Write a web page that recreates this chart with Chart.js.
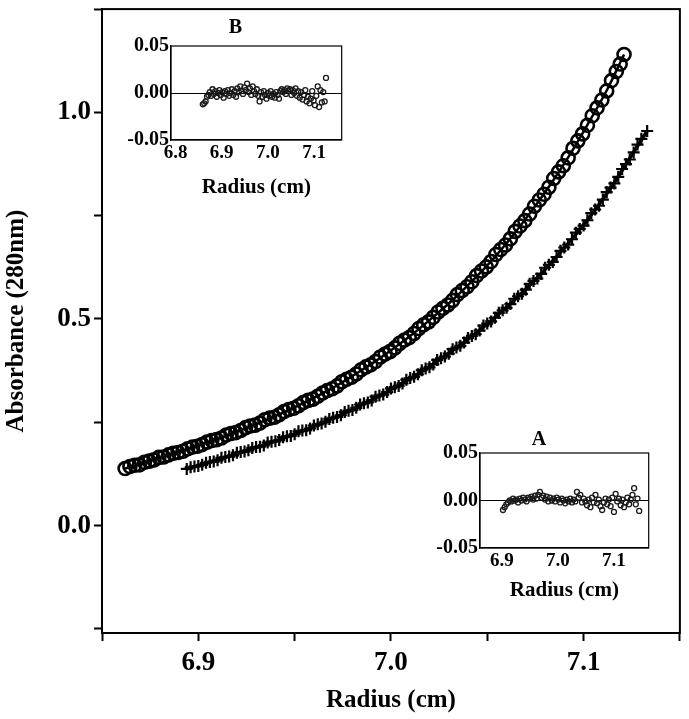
<!DOCTYPE html>
<html>
<head>
<meta charset="utf-8">
<script src="https://cdn.jsdelivr.net/npm/chart.js@4.4.1/dist/chart.umd.min.js"></script>
<style>
  html, body { margin: 0; padding: 0; background: #fff; }
  #wrap { position: relative; width: 689px; height: 719px; }
  canvas { position: absolute; }
</style>
</head>
<body>
<div id="wrap">
  <canvas id="mainChart" width="689" height="719" style="left:0;top:0"></canvas>
  <canvas id="insetB" width="219" height="196" style="left:128px;top:6px"></canvas>
  <canvas id="insetA" width="226" height="185" style="left:428px;top:420px"></canvas>
</div>
<script>
// ===========================
// DATA
// ===========================
// open circles (measured points)
const circleX = [6.862, 6.8645, 6.867, 6.8695, 6.872, 6.8745, 6.877, 6.8795, 6.882, 6.8845,
  6.887, 6.8895, 6.892, 6.8945, 6.897, 6.8995, 6.902, 6.9045, 6.907, 6.9095,
  6.912, 6.9145, 6.917, 6.9195, 6.922, 6.9245, 6.927, 6.9295, 6.932, 6.9345,
  6.937, 6.9395, 6.942, 6.9445, 6.947, 6.9495, 6.952, 6.9545, 6.957, 6.9595,
  6.962, 6.9645, 6.967, 6.9695, 6.972, 6.9745, 6.977, 6.9795, 6.982, 6.9845,
  6.987, 6.9895, 6.992, 6.9945, 6.997, 6.9995, 7.002, 7.0045, 7.007, 7.0095,
  7.012, 7.0145, 7.017, 7.0195, 7.022, 7.0245, 7.027, 7.0295, 7.032, 7.0345,
  7.037, 7.0395, 7.042, 7.0445, 7.047, 7.0495, 7.052, 7.0545, 7.057, 7.0595,
  7.062, 7.0645, 7.067, 7.0695, 7.072, 7.0745, 7.077, 7.0795, 7.082, 7.0845,
  7.087, 7.0895, 7.092, 7.0945, 7.097, 7.0995, 7.102, 7.1045, 7.107, 7.1095,
  7.112, 7.1145, 7.117, 7.119, 7.121];
const circleY = [0.138, 0.143, 0.146, 0.147, 0.153, 0.156, 0.159, 0.165, 0.166, 0.171,
  0.175, 0.177, 0.180, 0.186, 0.190, 0.192, 0.196, 0.202, 0.206, 0.208,
  0.212, 0.219, 0.223, 0.225, 0.230, 0.237, 0.241, 0.243, 0.248, 0.256,
  0.260, 0.262, 0.268, 0.276, 0.281, 0.284, 0.290, 0.298, 0.303, 0.306,
  0.313, 0.321, 0.327, 0.331, 0.338, 0.348, 0.354, 0.359, 0.367, 0.377,
  0.384, 0.389, 0.397, 0.408, 0.415, 0.421, 0.430, 0.441, 0.449, 0.455,
  0.465, 0.477, 0.486, 0.493, 0.504, 0.517, 0.526, 0.534, 0.545, 0.559,
  0.569, 0.578, 0.590, 0.605, 0.616, 0.626, 0.639, 0.656, 0.668, 0.679,
  0.694, 0.712, 0.725, 0.738, 0.754, 0.773, 0.788, 0.802, 0.819, 0.840,
  0.856, 0.871, 0.890, 0.913, 0.931, 0.948, 0.969, 0.992, 1.011, 1.030,
  1.052, 1.077, 1.099, 1.117, 1.140];

// fitted curve through the circles
const circleFitX = [6.862, 6.872, 6.882, 6.892, 6.902, 6.912, 6.922, 6.932, 6.942, 6.952,
  6.962, 6.972, 6.982, 6.992, 7.002, 7.012, 7.022, 7.032, 7.042, 7.052,
  7.062, 7.072, 7.082, 7.092, 7.102, 7.112, 7.121];
const circleFitY = [0.138, 0.152, 0.167, 0.181, 0.197, 0.213, 0.231, 0.249, 0.269, 0.291,
  0.314, 0.339, 0.368, 0.398, 0.431, 0.466, 0.505, 0.546, 0.591, 0.640,
  0.695, 0.755, 0.820, 0.891, 0.970, 1.053, 1.140];

// crosses (measured points)
const crossX = [6.894, 6.896, 6.898, 6.900, 6.902, 6.904, 6.906, 6.908, 6.910, 6.912,
  6.914, 6.916, 6.918, 6.920, 6.922, 6.924, 6.926, 6.928, 6.930, 6.932,
  6.934, 6.936, 6.938, 6.940, 6.942, 6.944, 6.946, 6.948, 6.950, 6.952,
  6.954, 6.956, 6.958, 6.960, 6.962, 6.964, 6.966, 6.968, 6.970, 6.972,
  6.974, 6.976, 6.978, 6.980, 6.982, 6.984, 6.986, 6.988, 6.990, 6.992,
  6.994, 6.996, 6.998, 7.000, 7.002, 7.004, 7.006, 7.008, 7.010, 7.012,
  7.014, 7.016, 7.018, 7.020, 7.022, 7.024, 7.026, 7.028, 7.030, 7.032,
  7.034, 7.036, 7.038, 7.040, 7.042, 7.044, 7.046, 7.048, 7.050, 7.052,
  7.054, 7.056, 7.058, 7.060, 7.062, 7.064, 7.066, 7.068, 7.070, 7.072,
  7.074, 7.076, 7.078, 7.080, 7.082, 7.084, 7.086, 7.088, 7.090, 7.092,
  7.094, 7.096, 7.098, 7.100, 7.102, 7.104, 7.106, 7.108, 7.110, 7.112,
  7.114, 7.116, 7.118, 7.120, 7.122, 7.124, 7.126, 7.128, 7.130, 7.133];
const crossY = [0.137, 0.141, 0.143, 0.144, 0.147, 0.152, 0.154, 0.155, 0.158, 0.164,
  0.166, 0.167, 0.170, 0.176, 0.178, 0.179, 0.182, 0.188, 0.190, 0.191,
  0.194, 0.201, 0.203, 0.204, 0.207, 0.214, 0.216, 0.217, 0.221, 0.228,
  0.230, 0.231, 0.235, 0.242, 0.245, 0.247, 0.251, 0.258, 0.261, 0.263,
  0.267, 0.275, 0.278, 0.280, 0.285, 0.293, 0.296, 0.298, 0.303, 0.312,
  0.315, 0.317, 0.323, 0.332, 0.335, 0.338, 0.344, 0.353, 0.357, 0.360,
  0.366, 0.376, 0.380, 0.383, 0.390, 0.401, 0.405, 0.409, 0.416, 0.427,
  0.431, 0.435, 0.443, 0.454, 0.459, 0.463, 0.472, 0.484, 0.489, 0.494,
  0.503, 0.515, 0.521, 0.527, 0.536, 0.549, 0.555, 0.561, 0.571, 0.585,
  0.592, 0.598, 0.609, 0.624, 0.631, 0.638, 0.650, 0.665, 0.673, 0.680,
  0.693, 0.709, 0.718, 0.726, 0.739, 0.756, 0.765, 0.774, 0.789, 0.807,
  0.818, 0.828, 0.844, 0.863, 0.875, 0.886, 0.903, 0.922, 0.936, 0.955];

// fitted curve through the crosses
const crossFitX = [6.894, 6.902, 6.910, 6.918, 6.926, 6.934, 6.942, 6.950, 6.958, 6.966,
  6.974, 6.982, 6.990, 6.998, 7.006, 7.014, 7.022, 7.030, 7.038, 7.046,
  7.054, 7.062, 7.070, 7.078, 7.086, 7.094, 7.102, 7.110, 7.118, 7.126, 7.133];
const crossFitY = [0.137, 0.148, 0.159, 0.171, 0.183, 0.195, 0.208, 0.222, 0.236, 0.252,
  0.268, 0.286, 0.304, 0.324, 0.345, 0.367, 0.391, 0.417, 0.444, 0.473,
  0.504, 0.537, 0.572, 0.610, 0.651, 0.694, 0.740, 0.790, 0.845, 0.904, 0.955];

// residuals, inset B (circles)
const resBX = [6.859, 6.862, 6.865, 6.868, 6.871, 6.874, 6.877, 6.880, 6.883, 6.886,
  6.889, 6.892, 6.895, 6.898, 6.901, 6.904, 6.907, 6.910, 6.913, 6.916,
  6.919, 6.922, 6.925, 6.928, 6.931, 6.934, 6.937, 6.940, 6.943, 6.946,
  6.949, 6.952, 6.955, 6.958, 6.961, 6.964, 6.967, 6.970, 6.973, 6.976,
  6.979, 6.982, 6.985, 6.988, 6.991, 6.994, 6.997, 7.000, 7.003, 7.006,
  7.009, 7.012, 7.015, 7.018, 7.021, 7.024, 7.027, 7.030, 7.033, 7.036,
  7.039, 7.042, 7.045, 7.048, 7.051, 7.054, 7.057, 7.060, 7.063, 7.066,
  7.069, 7.072, 7.075, 7.078, 7.081, 7.084, 7.087, 7.090, 7.093, 7.096,
  7.099, 7.102, 7.105, 7.108, 7.111, 7.114, 7.117, 7.120, 7.123, 7.126];
const resBY = [-0.012, -0.011, -0.009, -0.004, -0.002, 0.001, -0.003, 0.004, -0.001, 0.002,
  -0.004, 0.000, 0.003, -0.002, 0.001, -0.005, 0.002, -0.001, 0.003, -0.003,
  0.000, 0.004, -0.002, 0.002, -0.004, 0.005, 0.001, 0.007, 0.002, -0.001,
  0.006, 0.003, 0.010, 0.001, 0.005, -0.002, 0.007, 0.002, -0.001, 0.004,
  -0.003, -0.009, 0.001, -0.004, 0.002, -0.002, -0.006, 0.000, -0.003, 0.002,
  -0.004, -0.001, -0.005, 0.001, -0.002, -0.006, 0.002, 0.004, 0.001, 0.003,
  -0.001, 0.005, 0.002, 0.004, -0.002, 0.003, 0.000, 0.005, -0.003, 0.002,
  -0.005, 0.001, -0.007, -0.002, 0.003, -0.009, -0.004, -0.011, -0.006, 0.002,
  -0.008, -0.013, -0.003, 0.007, -0.015, 0.003, -0.010, 0.001, -0.009, 0.016];

// residuals, inset A (crosses)
const resAX = [6.902, 6.905, 6.908, 6.911, 6.914, 6.917, 6.920, 6.923, 6.926, 6.929,
  6.932, 6.935, 6.938, 6.941, 6.944, 6.947, 6.950, 6.953, 6.956, 6.959,
  6.962, 6.965, 6.968, 6.971, 6.974, 6.977, 6.980, 6.983, 6.986, 6.989,
  6.992, 6.995, 6.998, 7.001, 7.004, 7.007, 7.010, 7.013, 7.016, 7.019,
  7.022, 7.025, 7.028, 7.031, 7.034, 7.037, 7.040, 7.043, 7.046, 7.049,
  7.052, 7.055, 7.058, 7.061, 7.064, 7.067, 7.070, 7.073, 7.076, 7.079,
  7.082, 7.085, 7.088, 7.091, 7.094, 7.097, 7.100, 7.103, 7.106, 7.109,
  7.112, 7.115, 7.118, 7.121, 7.124, 7.127, 7.130, 7.133, 7.136, 7.139,
  7.142, 7.145];
const resAY = [-0.010, -0.007, -0.004, -0.002, 0.000, -0.001, 0.002, 0.000, 0.001, -0.002,
  0.002, 0.000, 0.003, 0.001, -0.001, 0.003, 0.002, 0.004, 0.001, 0.005,
  0.002, 0.006, 0.009, 0.003, 0.005, 0.001, 0.004, -0.001, 0.003, 0.000,
  0.002, -0.001, 0.003, 0.001, -0.002, 0.002, 0.000, -0.003, 0.001, -0.001,
  0.002, -0.002, 0.001, -0.001, 0.009, 0.003, 0.006, -0.002, 0.002, -0.001,
  -0.005, 0.001, -0.007, 0.003, -0.002, 0.006, -0.003, 0.001, -0.006, -0.010,
  -0.002, 0.002, -0.004, 0.001, -0.006, 0.003, -0.012, 0.007, -0.001, 0.002,
  -0.005, 0.001, -0.007, -0.002, 0.003, -0.004, 0.001, 0.006, 0.013, -0.004,
  0.002, -0.011];

// axis ranges
const mainXRange = [6.85, 7.15];
const mainYRange = [-0.26, 1.25];
const insetBXRange = [6.79, 7.16];
const insetAXRange = [6.861, 7.162];
const insetYRange = [-0.05, 0.05];

// ===========================
// HELPERS
// ===========================
const FONT = "'Liberation Serif', 'Times New Roman', serif";
Chart.defaults.font.family = FONT;
Chart.defaults.color = "#000";

function pts(xs, ys) {
    return xs.map((x, i) => ({ x: x, y: ys[i] }));
}

function isMultiple(v, step) {
    const r = v / step;
    return Math.abs(r - Math.round(r)) < 1e-6;
}

// box around the plot area (top and right edges)
const framePlugin = {
    id: "frame",
    afterDraw(chart, args, opts) {
        const { ctx, chartArea: a } = chart;
        ctx.save();
        ctx.strokeStyle = "#000";
        ctx.lineWidth = opts.width || 1;
        ctx.strokeRect(a.left, a.top, a.right - a.left, a.bottom - a.top);
        ctx.restore();
    }
};

// ===========================
// MAIN CHART
// ===========================
new Chart(document.getElementById("mainChart"), {
    type: "scatter",
    data: {
        datasets: [
            {
                label: "circle fit",
                data: pts(circleFitX, circleFitY),
                showLine: true,
                borderColor: "#000",
                borderWidth: 2.5,
                pointRadius: 0,
                tension: 0.3
            },
            {
                label: "circles",
                data: pts(circleX, circleY),
                pointStyle: "circle",
                pointRadius: 6.5,
                pointBorderWidth: 2.6,
                pointBorderColor: "#000",
                pointBackgroundColor: "rgba(0,0,0,0)"
            },
            {
                label: "cross fit",
                data: pts(crossFitX, crossFitY),
                showLine: true,
                borderColor: "#000",
                borderWidth: 3.5,
                pointRadius: 0,
                tension: 0.3
            },
            {
                label: "crosses",
                data: pts(crossX, crossY),
                pointStyle: "cross",
                pointRadius: 6,
                pointBorderWidth: 2.2,
                pointBorderColor: "#000"
            }
        ]
    },
    options: {
        responsive: false,
        animation: false,
        devicePixelRatio: 1,
        layout: { padding: { left: 0, right: 4, top: 4, bottom: 0 } },
        plugins: {
            legend: { display: false },
            tooltip: { enabled: false },
            frame: { width: 2 }
        },
        scales: {
            x: {
                type: "linear",
                min: mainXRange[0],
                max: mainXRange[1],
                afterFit: s => { s.height = 86; s.paddingLeft = 0; s.paddingRight = 0; },
                ticks: {
                    stepSize: 0.05,
                    autoSkip: false,
                    maxRotation: 0,
                    padding: 6,
                    font: { size: 27, weight: "bold" },
                    callback: v => isMultiple(v, 0.1) ? v.toFixed(1) : ""
                },
                grid: { drawOnChartArea: false, tickLength: 8, tickColor: "#000", tickWidth: 2 },
                border: { display: true, color: "#000", width: 2 },
                title: {
                    display: true,
                    text: "Radius (cm)",
                    font: { size: 25, weight: "bold" },
                    padding: { top: 0, bottom: 3 }
                }
            },
            y: {
                type: "linear",
                min: mainYRange[0],
                max: mainYRange[1],
                afterFit: s => { s.width = 102; s.paddingTop = 0; s.paddingBottom = 0; },
                ticks: {
                    stepSize: 0.25,
                    includeBounds: false,
                    autoSkip: false,
                    padding: 3,
                    font: { size: 27, weight: "bold" },
                    callback: v => isMultiple(v, 0.5) ? v.toFixed(1) : ""
                },
                grid: { drawOnChartArea: false, tickLength: 8, tickColor: "#000", tickWidth: 2 },
                border: { display: true, color: "#000", width: 2 },
                title: {
                    display: true,
                    text: "Absorbance (280nm)",
                    font: { size: 25, weight: "bold" },
                    padding: { top: 2, bottom: 0 }
                }
            }
        }
    },
    plugins: [framePlugin]
});

// ===========================
// INSETS (residuals)
// ===========================
function drawInset(id, letter, xs, ys, xRange, yWidth, xHeight, titlePad) {
    return new Chart(document.getElementById(id), {
        type: "scatter",
        data: {
            datasets: [{
                data: pts(xs, ys),
                pointStyle: "circle",
                pointRadius: 2.5,
                pointBorderWidth: 1.3,
                pointBorderColor: "#1a1a1a",
                pointBackgroundColor: "rgba(0,0,0,0)"
            }]
        },
        options: {
            responsive: false,
            animation: false,
            devicePixelRatio: 1,
            layout: { padding: { left: 0, right: 4, top: 0, bottom: 0 } },
            plugins: {
                legend: { display: false },
                tooltip: { enabled: false },
                frame: { width: 1.2 },
                title: {
                    display: true,
                    text: letter,
                    font: { size: 20, weight: "bold" },
                    color: "#000",
                    padding: titlePad
                }
            },
            scales: {
                x: {
                    type: "linear",
                    min: xRange[0],
                    max: xRange[1],
                    afterFit: s => { s.height = xHeight; },
                    ticks: {
                        stepSize: 0.1,
                        includeBounds: false,
                        autoSkip: false,
                        maxRotation: 0,
                        padding: 2,
                        font: { size: 19, weight: "bold" },
                        callback: v => v.toFixed(1)
                    },
                    grid: { drawOnChartArea: false, drawTicks: false },
                    border: { display: true, color: "#000", width: 1.2 },
                    title: {
                        display: true,
                        text: "Radius (cm)",
                        font: { size: 21, weight: "bold" },
                        padding: { top: 0, bottom: 2 }
                    }
                },
                y: {
                    type: "linear",
                    min: insetYRange[0],
                    max: insetYRange[1],
                    afterFit: s => { s.width = yWidth; },
                    ticks: {
                        stepSize: 0.05,
                        autoSkip: false,
                        padding: 2,
                        font: { size: 20, weight: "bold" },
                        callback: v => v.toFixed(2)
                    },
                    grid: {
                        drawTicks: false,
                        color: c => (c.tick && Math.abs(c.tick.value) < 1e-9) ? "#000" : "rgba(0,0,0,0)",
                        lineWidth: 1
                    },
                    border: { display: true, color: "#000", width: 1.2 }
                }
            }
        },
        plugins: [framePlugin]
    });
}

drawInset("insetB", "B", resBX, resBY, insetBXRange, 43, 62, { top: 10, bottom: 6 });
drawInset("insetA", "A", resAX, resAY, insetAXRange, 52, 57, { top: 8, bottom: 1 });
</script>
</body>
</html>
